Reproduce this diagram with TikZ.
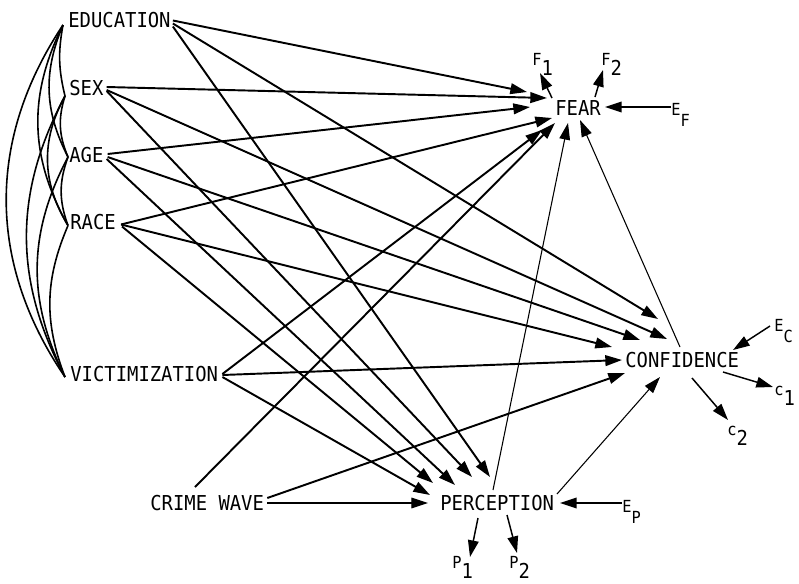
\documentclass[tikz,border=0pt]{standalone}
\usepackage{fontspec}
\usetikzlibrary{arrows.meta}
\newfontfamily\labelmono[FakeStretch=0.92]{DejaVu Sans Mono}
\newcommand\bigtext{\labelmono\fontsize{15.4pt}{18pt}\selectfont}
\newcommand\smalltext{\labelmono\fontsize{12.5pt}{15pt}\selectfont}
% indicator label: small letter with a large lowered digit
\newcommand\indic[2]{{\smalltext #1}\raisebox{-8pt}{\bigtext #2}}
% error label: small letter with a small lowered letter
\newcommand\errlab[2]{{\smalltext #1}\raisebox{-8.5pt}{\smalltext #2}}
\begin{document}
\begin{tikzpicture}[x=0.75pt,y=-0.75pt,
  var/.style={inner sep=0pt,anchor=west,font=\bigtext},
  sublab/.style={inner sep=0pt,anchor=base west},
  arr/.style={line width=1.45pt,-{Triangle[length=12.5pt,width=8pt]}},
  arrmid/.style={line width=1.1pt,-{Triangle[length=12.5pt,width=8pt]}},
  arrthin/.style={line width=0.8pt,-{Triangle[length=12.5pt,width=8pt]}},
  corr/.style={line width=1.2pt}]
\fill[white] (0,0) rectangle (799,583);
\useasboundingbox (0,0) rectangle (799,583);

% variables
\node[var] (edu)   at (68,20.5) {EDUCATION};
\node[var] (sex)   at (69,88)   {SEX};
\node[var] (age)   at (69,155)  {AGE};
\node[var] (race)  at (70,222.5){RACE};
\node[var] (vict)  at (70,374)  {VICTIMIZATION};
\node[var] (crime) at (150,503) {CRIME WAVE};
\node[var] (perc)  at (440,503) {PERCEPTION};
\node[var] (fear)  at (555,108) {FEAR};
\node[var] (conf)  at (625,360) {CONFIDENCE};

% indicators and error terms
\node[sublab] (f1) at (532,65)  {\indic{F}{1}};
\node[sublab] (f2) at (601,65)  {\indic{F}{2}};
\node[sublab] (ef) at (671,115) {\errlab{E}{F}};
\node[sublab] (ec) at (774,331) {\errlab{E}{C}};
\node[sublab] (c1) at (774,395) {\indic{c}{1}};
\node[sublab] (c2) at (727,435) {\indic{c}{2}};
\node[sublab] (ep) at (622,512) {\errlab{E}{P}};
\node[sublab] (p1) at (452,568) {\indic{P}{1}};
\node[sublab] (p2) at (509,568) {\indic{P}{2}};

% correlations among the exogenous variables
\coordinate (le) at ([shift={(-5,4.5)}]edu.west);
\coordinate (ls) at ([shift={(-4,8)}]sex.west);
\coordinate (la) at ([shift={(-1,2)}]age.west);
\coordinate (lr) at ([shift={(-2,3)}]race.west);
\coordinate (lv) at ([shift={(-5,3)}]vict.west);
\draw[corr] (le) to[bend right=12] (ls);
\draw[corr] (le) to[bend right=25] (la);
\draw[corr] (le) to[bend right=28] (lr);
\draw[corr] (le) to[bend right=34] (lv);
\draw[corr] (ls) to[bend right=20] (la);
\draw[corr] (ls) to[bend right=30] (lr);
\draw[corr] (ls) to[bend right=28] (lv);
\draw[corr] (la) to[bend right=20] (lr);
\draw[corr] (la) to[bend right=27] (lv);
\draw[corr] (lr) to[bend right=22] (lv);

% education
\draw[arr] ([shift={(2,0)}]edu.east) -- ([shift={(-28,-16)}]fear.west);
\draw[arr] ([shift={(2,3)}]edu.east) -- ([shift={(33,-41)}]conf.west);
\draw[arr] ([shift={(2,6)}]edu.east) -- ([shift={(50,-26)}]perc.west);
% sex
\draw[arr] ([shift={(3,-1)}]sex.east) -- ([shift={(-8,-10)}]fear.west);
\draw[arr] ([shift={(3,2)}]sex.east) -- ([shift={(42,-21)}]conf.west);
\draw[arr] ([shift={(3,3)}]sex.east) -- ([shift={(32,-26)}]perc.west);
% age
\draw[arr] ([shift={(4,-1)}]age.east) -- ([shift={(-25,-1)}]fear.west);
\draw[arr] ([shift={(4,2)}]age.east) -- ([shift={(15,-20)}]conf.west);
\draw[arr] ([shift={(3,4)}]age.east) -- ([shift={(15,-18)}]perc.west);
% race
\draw[arr] ([shift={(5,2)}]race.east) -- ([shift={(-3,10)}]fear.west);
\draw[arr] ([shift={(5,2)}]race.east) -- ([shift={(-13,-13)}]conf.west);
\draw[arr] ([shift={(6,4)}]race.east) -- ([shift={(-7,-20)}]perc.west);
% victimization
\draw[arr] ([shift={(4,0)}]vict.east) -- ([shift={(-13,22)}]fear.west);
\draw[arr] ([shift={(4,1)}]vict.east) -- ([shift={(-3,0)}]conf.west);
\draw[arr] ([shift={(4,3)}]vict.east) -- ([shift={(-10,-8)}]perc.west);
% crime wave
\draw[arr] ([shift={(45,-16)}]crime.west) -- ([shift={(0,15)}]fear.west);
\draw[arr] ([shift={(3,-5)}]crime.east) -- ([shift={(0,13)}]conf.west);
\draw[arrthin] ([shift={(3,0)}]crime.east) -- ([shift={(-12,0)}]perc.west);
% endogenous paths
\draw[arrthin] ([shift={(53,-13)}]perc.west) -- ([shift={(13,15)}]fear.west);
\draw[arrthin] ([shift={(55,-13)}]conf.west) -- ([shift={(25,12)}]fear.west);
\draw[arrthin] ([shift={(117,-9)}]perc.west) -- ([shift={(35,17)}]conf.west);

% measurement and error arrows
\draw[arrmid] ([shift={(-3,-10)}]fear.west) -- ([shift={(8,8)}]f1.base west);
\draw[arrmid] ([shift={(40,-11)}]fear.west) -- ([shift={(2,5)}]f2.base west);
\draw[arrmid] ([shift={(0,-8)}]ef.base west) -- ([shift={(50,-1)}]fear.west);
\draw[arrmid] ([shift={(-4,-5)}]ec.base west) -- ([shift={(108,-10)}]conf.west);
\draw[arrmid] ([shift={(98,12)}]conf.west) -- ([shift={(-1,-8)}]c1.base west);
\draw[arrmid] ([shift={(67,18)}]conf.west) -- ([shift={(1,-15)}]c2.base west);
\draw[arrmid] ([shift={(0,-9)}]ep.base west) -- ([shift={(120,0)}]perc.west);
\draw[arrmid] ([shift={(38,15)}]perc.west) -- ([shift={(18,-11)}]p1.base west);
\draw[arrmid] ([shift={(67,12)}]perc.west) -- ([shift={(8,-15)}]p2.base west);
\end{tikzpicture}
\end{document}
